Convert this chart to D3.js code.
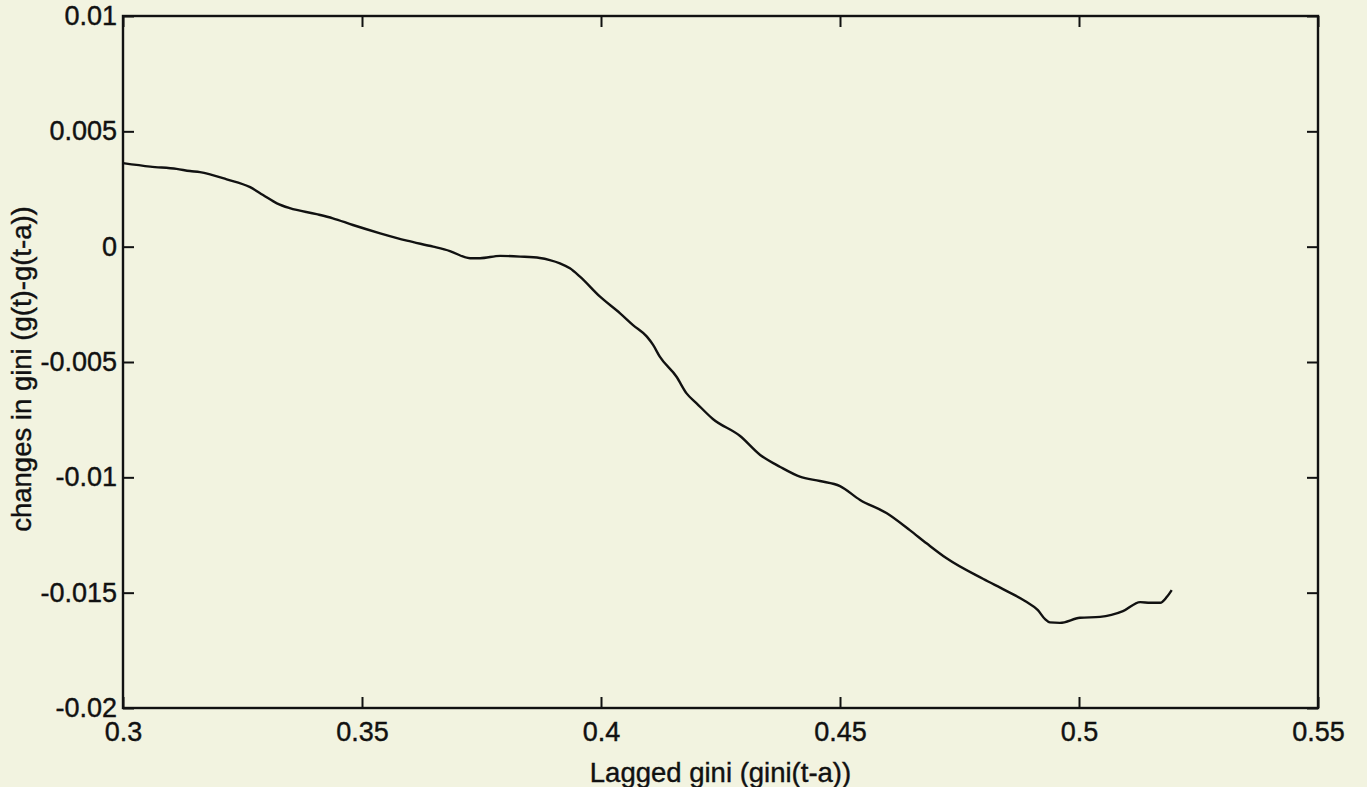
<!DOCTYPE html>
<html>
<head>
<meta charset="utf-8">
<script src="https://cdn.jsdelivr.net/npm/d3@7"></script>
<style>
  html, body { margin: 0; padding: 0; background: #f2f3e0; }
  svg { display: block; }
  text { font-family: "Liberation Sans", Arial, Helvetica, sans-serif; fill: #111; }
</style>
</head>
<body>
<svg id="chart" width="1367" height="787"></svg>
<script>
// ---- data ----
const laggedGini = [
  0.3000, 0.3057, 0.3112, 0.3140, 0.3161, 0.3217, 0.3266, 0.3293, 0.3322, 0.3349,
  0.3405, 0.3439, 0.3481, 0.3538, 0.3594, 0.3649, 0.3684, 0.3726, 0.3747, 0.3789,
  0.3831, 0.3872, 0.3893, 0.3914, 0.3935, 0.3956, 0.3998, 0.4040, 0.4067, 0.4096,
  0.4109, 0.4123, 0.4158, 0.4179, 0.4200, 0.4234, 0.4291, 0.4333, 0.4375, 0.4416,
  0.4458, 0.4500, 0.4542, 0.4598, 0.4646, 0.4681, 0.4723, 0.4800, 0.4845, 0.4887,
  0.4914, 0.4929, 0.4939, 0.4960, 0.5002, 0.5044, 0.5092, 0.5128, 0.5149, 0.5170,
  0.5184, 0.5194
];
const giniChange = [
  0.00362, 0.00347, 0.00337, 0.00328, 0.00323, 0.00292, 0.00258, 0.00224, 0.00188, 0.00167,
  0.00141, 0.00123, 0.00094, 0.00058, 0.00026, 0.00000, -0.00019, -0.00050, -0.00050, -0.00040,
  -0.00043, -0.00049, -0.00058, -0.00072, -0.00094, -0.00130, -0.00217, -0.00289, -0.00340, -0.00390,
  -0.00426, -0.00477, -0.00564, -0.00636, -0.00679, -0.00747, -0.00821, -0.00903, -0.00955, -0.00997,
  -0.01016, -0.01038, -0.01098, -0.01156, -0.01229, -0.01286, -0.01351, -0.01441, -0.01489, -0.01536,
  -0.01576, -0.01615, -0.01629, -0.01631, -0.01609, -0.01605, -0.01580, -0.01541, -0.01544, -0.01544,
  -0.01518, -0.01489
];
const xTickValues = [0.3, 0.35, 0.4, 0.45, 0.5, 0.55];
const xTickLabels = ["0.3", "0.35", "0.4", "0.45", "0.5", "0.55"];
const yTickValues = [0.01, 0.005, 0, -0.005, -0.01, -0.015, -0.02];
const yTickLabels = ["0.01", "0.005", "0", "-0.005", "-0.01", "-0.015", "-0.02"];
const xLabel = "Lagged gini (gini(t-a))";
const yLabel = "changes in gini (g(t)-g(t-a))";

// ---- layout ----
const svg = d3.select("#chart");
const mLeft = 123, mRight = 1318, mTop = 16, mBottom = 708;

const x = d3.scaleLinear().domain([0.3, 0.55]).range([mLeft, mRight]);
const y = d3.scaleLinear().domain([-0.02, 0.01]).range([mBottom, mTop]);

const xFmt = d => xTickLabels[xTickValues.indexOf(d)];
const yFmt = d => yTickLabels[yTickValues.indexOf(d)];

const gx = svg.append("g").attr("transform", `translate(0,${mBottom})`)
  .call(d3.axisBottom(x).tickValues(xTickValues).tickFormat(xFmt).tickSizeInner(-11).tickSizeOuter(0).tickPadding(14));
const gxt = svg.append("g").attr("transform", `translate(0,${mTop})`)
  .call(d3.axisTop(x).tickValues(xTickValues).tickFormat("").tickSizeInner(-11).tickSizeOuter(0));
const gy = svg.append("g").attr("transform", `translate(${mLeft},0)`)
  .call(d3.axisLeft(y).tickValues(yTickValues).tickFormat(yFmt).tickSizeInner(-11).tickSizeOuter(0).tickPadding(6));
const gyr = svg.append("g").attr("transform", `translate(${mRight},0)`)
  .call(d3.axisRight(y).tickValues(yTickValues).tickFormat("").tickSizeInner(-11).tickSizeOuter(0));

[gx, gxt, gy, gyr].forEach(g => {
  g.select(".domain").remove();
  g.selectAll(".tick line").attr("stroke", "#111").attr("stroke-width", 2);
  g.selectAll("text").attr("font-size", 27).attr("fill", "#111")
    .attr("stroke", "#111").attr("stroke-width", 0.4)
    .style("font-family", '"Liberation Sans", Arial, sans-serif');
});

svg.append("rect")
  .attr("x", mLeft).attr("y", mTop)
  .attr("width", mRight - mLeft).attr("height", mBottom - mTop)
  .attr("fill", "none").attr("stroke", "#111").attr("stroke-width", 2.4);

const pts = laggedGini.map((g, i) => [g, giniChange[i]]);
svg.append("path")
  .datum(pts)
  .attr("fill", "none")
  .attr("stroke", "#111")
  .attr("stroke-width", 2.4)
  .attr("stroke-linejoin", "round")
  .attr("d", d3.line().x(d => x(d[0])).y(d => y(d[1])).curve(d3.curveMonotoneX));

svg.append("text")
  .attr("x", (mLeft + mRight) / 2).attr("y", 782)
  .attr("text-anchor", "middle").attr("font-size", 27.5)
  .attr("stroke", "#111").attr("stroke-width", 0.4)
  .text(xLabel);

svg.append("text")
  .attr("transform", `translate(31,${(mTop + mBottom) / 2 + 7}) rotate(-90)`)
  .attr("text-anchor", "middle").attr("font-size", 27.5)
  .attr("stroke", "#111").attr("stroke-width", 0.4)
  .text(yLabel);
</script>
</body>
</html>
